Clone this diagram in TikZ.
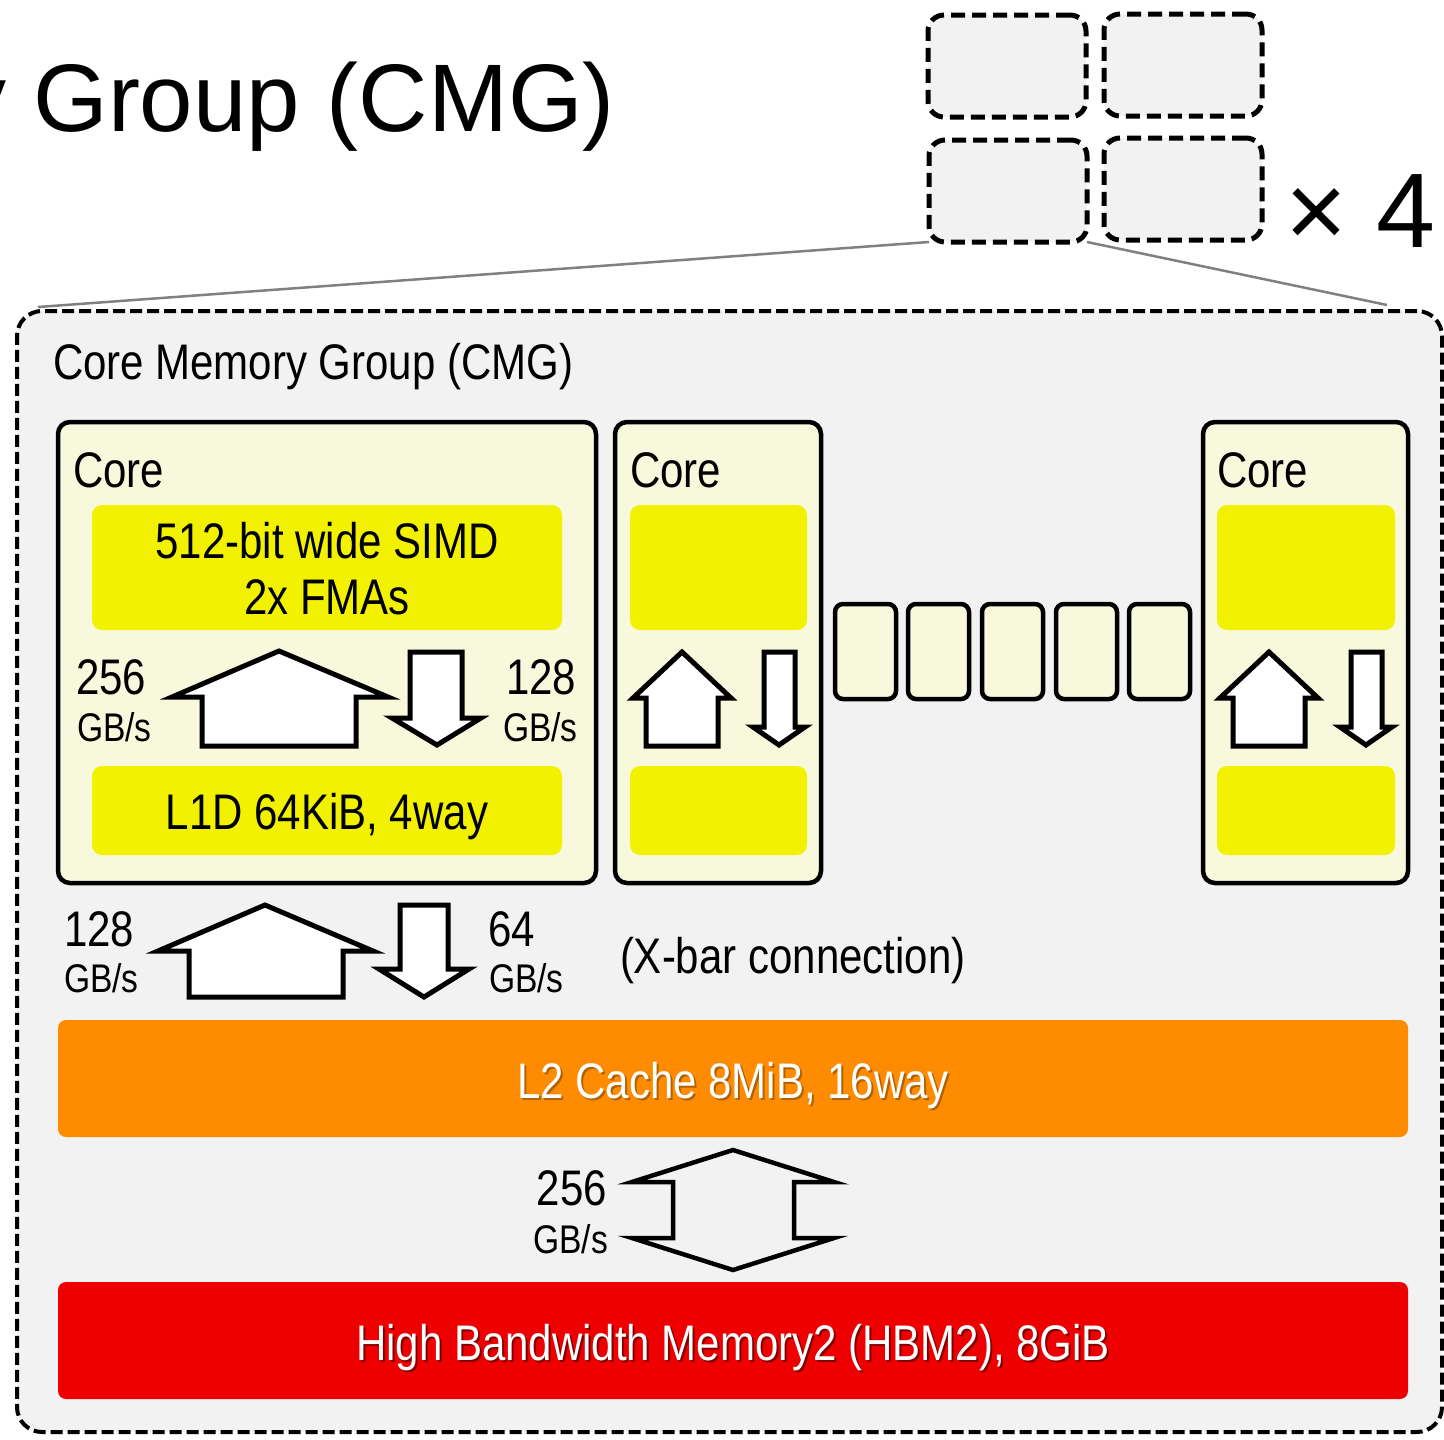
\documentclass[tikz,border=0pt]{standalone}
\usepackage{fontspec}
\setmainfont{Liberation Sans}[FakeStretch=0.84]
\newfontfamily\titlefont{Liberation Sans}
\definecolor{bggray}{HTML}{F2F2F2}
\definecolor{cream}{HTML}{F8F8DC}
\definecolor{ylw}{HTML}{F2F200}
\definecolor{l2orange}{HTML}{FF8C00}
\definecolor{hbmred}{HTML}{EE0000}
\definecolor{zoomgray}{HTML}{808080}
\begin{document}
\begin{tikzpicture}[x=1pt,y=-1pt,
  txt/.style={inner sep=0pt,outer sep=0pt,font=\fontsize{50}{56}\selectfont},
  txtsmall/.style={inner sep=0pt,outer sep=0pt,font=\fontsize{40}{46}\selectfont},
  boxnode/.style={anchor=north west,inner sep=0pt,outer sep=0pt},
  cmgmini/.style={boxnode,draw=black,fill=bggray,line width=5pt,dash pattern=on 14pt off 7pt,rounded corners=16pt,minimum width=158pt,minimum height=102pt},
  cmgbig/.style={boxnode,draw=black,fill=bggray,line width=4pt,dash pattern=on 12pt off 5pt,rounded corners=25pt},
  corebox/.style={boxnode,draw=black,fill=cream,line width=4.5pt,rounded corners=12pt,minimum height=461pt},
  ybox/.style={boxnode,fill=ylw,rounded corners=10pt},
  minicore/.style={boxnode,draw=black,fill=cream,line width=4.5pt,rounded corners=8pt,minimum width=61pt,minimum height=95pt},
  barrow/.style={draw=black,fill=white,line width=5pt,line join=miter,miter limit=20},
  darrow/.style={draw=black,line width=4.5pt,line join=miter,miter limit=20},
  zoomline/.style={draw=zoomgray,line width=2.5pt}
]
% canvas
\fill[white] (0,0) rectangle (1444,1440);
\useasboundingbox (0,0) rectangle (1444,1440);

% title
\node[inner sep=0pt,anchor=base east,font=\titlefont\fontsize{96}{110}\selectfont] (title) at (615,131) {y Group (CMG)};
\node[inner sep=0pt,anchor=base east,font=\titlefont\fontsize{106}{120}\selectfont] (times4) at (1436,247) {× 4};

% zoom lines
\coordinate (zoomL) at (38,307);
\coordinate (zoomR) at (1387,305);
\node[boxnode,minimum width=158pt,minimum height=102pt] (blpos) at (929,140) {};
\draw[zoomline] (blpos.south west) -- (zoomL);
\draw[zoomline] (blpos.south east) -- (zoomR);

% four CMGs
\node[cmgmini] (cmgTL) at (928,15) {};
\node[cmgmini] (cmgTR) at (1104,14) {};
\node[cmgmini] (cmgBL) at (929,140) {};
\node[cmgmini] (cmgBR) at (1104,138) {};

% big CMG
\node[cmgbig,minimum width=1425pt,minimum height=1121pt] (cmg) at (17,311) {};
\node[txt,anchor=base west] (cmglabel) at (53,379) {Core Memory Group (CMG)};

% cores
\node[corebox,minimum width=538pt] (core1) at (58,422) {};
\node[corebox,minimum width=206pt] (core2) at (615,422) {};
\node[corebox,minimum width=205pt] (core3) at (1203,422) {};
\node[txt,anchor=base west] (core1lbl) at (73,487) {Core};
\node[txt,anchor=base west] (core2lbl) at (630,487) {Core};
\node[txt,anchor=base west] (core3lbl) at (1217,487) {Core};

% yellow units
\node[ybox,minimum width=470pt,minimum height=125pt] (simd1) at (92,505) {};
\node[ybox,minimum width=470pt,minimum height=89pt] (l1d1) at (92,766) {};
\node[ybox,minimum width=177pt,minimum height=125pt] (simd2) at (630,505) {};
\node[ybox,minimum width=177pt,minimum height=89pt] (l1d2) at (630,766) {};
\node[ybox,minimum width=178pt,minimum height=125pt] (simd3) at (1217,505) {};
\node[ybox,minimum width=178pt,minimum height=89pt] (l1d3) at (1217,766) {};
\node[txt,anchor=base] (simdA) at (327,558) {512-bit wide SIMD};
\node[txt,anchor=base] (simdB) at (327,614) {2x FMAs};
\node[txt,anchor=base] (l1dtxt) at (327,829) {L1D 64KiB, 4way};

% core1 arrows
\draw[barrow] (279,651) -- (388,697) -- (356,697) -- (356,746) -- (202,746) -- (202,697) -- (172,697) -- cycle;
\draw[barrow] (410,652) -- (462,652) -- (462,718) -- (481,718) -- (437,745) -- (392,718) -- (410,718) -- cycle;
\node[txt,anchor=base west] (bw1a) at (76,694) {256};
\node[txtsmall,anchor=base west] (bw1b) at (77,741) {GB/s};
\node[txt,anchor=base west] (bw2a) at (506,694) {128};
\node[txtsmall,anchor=base west] (bw2b) at (503,741) {GB/s};

% core2 arrows
\draw[barrow] (682,652) -- (731,698) -- (718,698) -- (718,746) -- (646,746) -- (646,698) -- (633,698) -- cycle;
\draw[barrow] (764,652) -- (795,652) -- (795,727) -- (805,727) -- (779,745) -- (753,727) -- (764,727) -- cycle;
% core3 arrows
\draw[barrow] (1269,652) -- (1318,698) -- (1305,698) -- (1305,746) -- (1233,746) -- (1233,698) -- (1220,698) -- cycle;
\draw[barrow] (1351,652) -- (1382,652) -- (1382,727) -- (1392,727) -- (1366,745) -- (1340,727) -- (1351,727) -- cycle;

% other cores
\node[minicore] (mc1) at (835,604) {};
\node[minicore] (mc2) at (908,604) {};
\node[minicore] (mc3) at (982,604) {};
\node[minicore] (mc4) at (1056,604) {};
\node[minicore] (mc5) at (1129,604) {};

% core <-> L2 arrows
\draw[barrow] (265,905) -- (373,951) -- (343,951) -- (343,997) -- (189,997) -- (189,951) -- (158,951) -- cycle;
\draw[barrow] (400,905) -- (448,905) -- (448,969) -- (469,969) -- (424,997) -- (379,969) -- (400,969) -- cycle;
\node[txt,anchor=base west] (bw3a) at (64,946) {128};
\node[txtsmall,anchor=base west] (bw3b) at (64,992) {GB/s};
\node[txt,anchor=base west] (bw4a) at (488,946) {64};
\node[txtsmall,anchor=base west] (bw4b) at (489,992) {GB/s};
\node[txt,anchor=base west] (xbar) at (620,973) {(X-bar connection)};

% L2
\node[boxnode,fill=l2orange,rounded corners=8pt,minimum width=1350pt,minimum height=117pt] (l2) at (58,1020) {};
\node[txt,anchor=base,text=black,opacity=0.3] (l2shadow) at (735,1100) {L2 Cache 8MiB, 16way};
\node[txt,anchor=base,text=white] (l2txt) at (733,1098) {L2 Cache 8MiB, 16way};

% L2 <-> HBM double arrow
\draw[darrow] (733,1150) -- (834,1182) -- (794,1182) -- (794,1238) -- (834,1238) -- (733,1270) -- (632,1238) -- (673,1238) -- (673,1182) -- (632,1182) -- cycle;
\node[txt,anchor=base east] (bw5a) at (607,1205) {256};
\node[txtsmall,anchor=base east] (bw5b) at (608,1253) {GB/s};

% HBM
\node[boxnode,fill=hbmred,rounded corners=8pt,minimum width=1350pt,minimum height=117pt] (hbm) at (58,1282) {};
\node[txt,anchor=base,text=black,opacity=0.45] (hbmshadow) at (735,1362) {High Bandwidth Memory2 (HBM2), 8GiB};
\node[txt,anchor=base,text=white] (hbmtxt) at (733,1360) {High Bandwidth Memory2 (HBM2), 8GiB};
\end{tikzpicture}
\end{document}
